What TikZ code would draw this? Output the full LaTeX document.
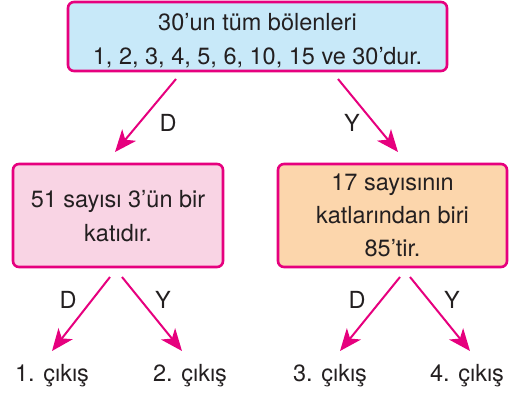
\documentclass[tikz,border=0pt]{standalone}
\usepackage{fontspec}
\setmainfont{TeX Gyre Heros}
\usetikzlibrary{arrows.meta}
\definecolor{mag}{RGB}{230,0,126}
\definecolor{txt}{RGB}{35,31,32}
\definecolor{fillA}{RGB}{200,233,249}
\definecolor{fillB}{RGB}{249,212,228}
\definecolor{fillC}{RGB}{252,214,172}
\tikzset{
  box/.style={draw=mag, line width=2.6pt, rounded corners=6pt, align=center, text=txt,
    inner sep=0pt, font=\fontsize{23.5}{33.5}\selectfont},
  arr/.style={draw=mag, line width=2pt, -{Stealth[length=22pt,width=18pt,inset=6pt]}},
  lab/.style={text=txt, font=\fontsize{23.5}{28}\selectfont, inner sep=0pt},
}
\begin{document}
\begin{tikzpicture}[x=1pt,y=-1pt]
\useasboundingbox (0,0) rectangle (521,393);
\node[box, fill=fillA, minimum width=379pt, minimum height=69pt] (top) at (257.5,36.5)
  {\rule{0pt}{25pt}30’un tüm bölenleri\\1, 2, 3, 4, 5, 6, 10, 15 ve 30’dur.};
\node[box, fill=fillB, minimum width=210pt, minimum height=103pt] (left) at (118,215.5)
  {\rule{0pt}{18.5pt}51 sayısı 3’ün bir\\[0.5pt]katıdır.};
\node[box, fill=fillC, minimum width=229pt, minimum height=103pt] (right) at (392.5,215.5)
  {17 sayısının\\[-0.5pt]katlarından biri\\[-0.5pt]85’tir.};
\node[lab] (o1) at (52,376) {1. çıkış};
\node[lab] (o2) at (190,376) {2. çıkış};
\node[lab] (o3) at (330,376) {3. çıkış};
\node[lab] (o4) at (467,376) {4. çıkış};
\coordinate (a1s) at (176,79); \coordinate (a1e) at (115,152);
\coordinate (a2s) at (338,79); \coordinate (a2e) at (398,152);
\coordinate (b1s) at (110,277); \coordinate (b1e) at (52,351);
\coordinate (b2s) at (122,277); \coordinate (b2e) at (182,351);
\coordinate (b3s) at (400,277); \coordinate (b3e) at (340,351);
\coordinate (b4s) at (410,277); \coordinate (b4e) at (470,351);
\draw[arr] (a1s) -- (a1e);
\draw[arr] (a2s) -- (a2e);
\draw[arr] (b1s) -- (b1e);
\draw[arr] (b2s) -- (b2e);
\draw[arr] (b3s) -- (b3e);
\draw[arr] (b4s) -- (b4e);
\node[lab] (l1) at (168,123) {D};
\node[lab] (l2) at (352,123) {Y};
\node[lab] (l3) at (68,300) {D};
\node[lab] (l4) at (163,300) {Y};
\node[lab] (l5) at (357,300) {D};
\node[lab] (l6) at (452,300) {Y};
\end{tikzpicture}
\end{document}
